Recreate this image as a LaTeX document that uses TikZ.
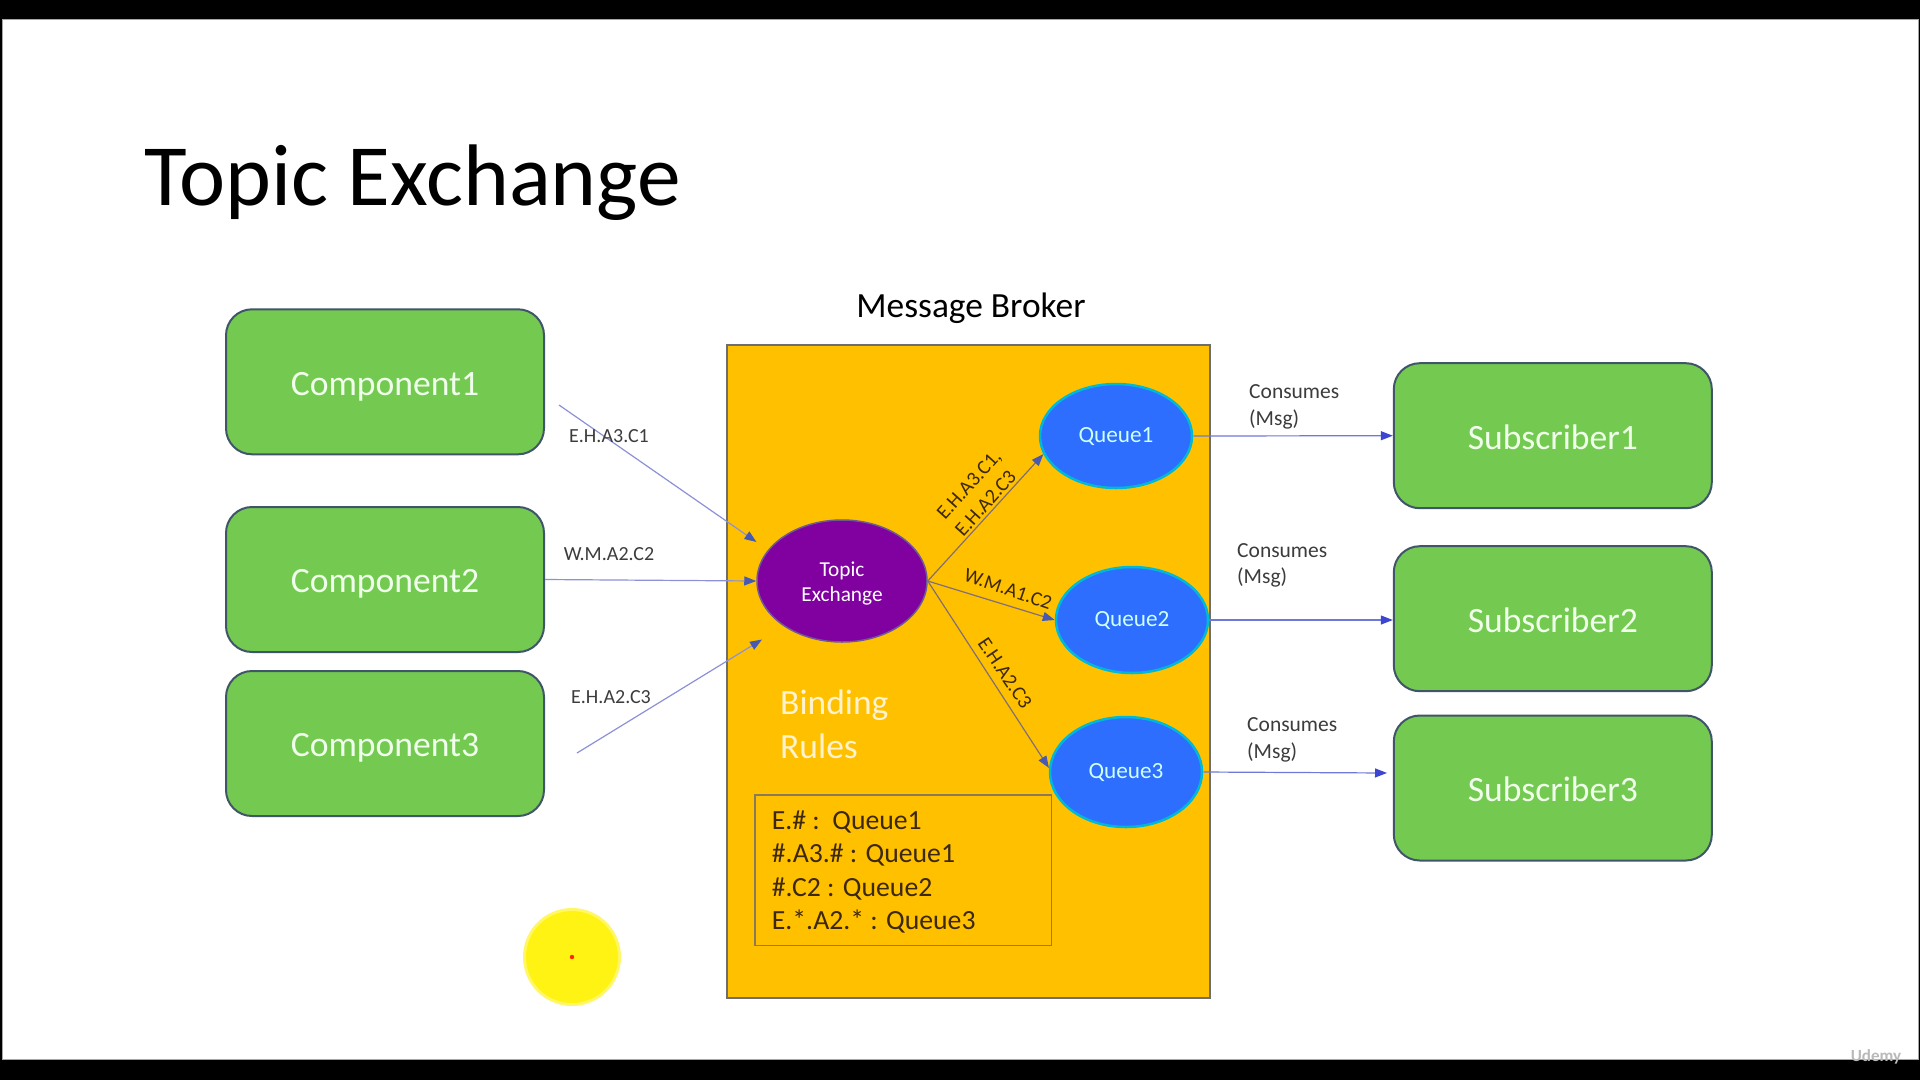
\documentclass[tikz,border=0pt]{standalone}
\usepackage{fontspec}
\setmainfont{Carlito}
\usetikzlibrary{arrows.meta,shapes.geometric}
\definecolor{boxgreen}{RGB}{116,202,80}
\definecolor{boxedge}{RGB}{65,85,105}
\definecolor{boxtext}{RGB}{240,255,235}
\definecolor{gold}{RGB}{255,192,0}
\definecolor{brokeredge}{RGB}{110,110,110}
\definecolor{exfill}{RGB}{128,0,160}
\definecolor{exedge}{RGB}{110,90,150}
\definecolor{qfill}{RGB}{45,110,255}
\definecolor{qedge}{RGB}{0,185,215}
\definecolor{qtext}{RGB}{205,255,255}
\definecolor{bindtext}{RGB}{255,242,204}
\definecolor{leftline}{RGB}{140,145,215}
\definecolor{headblue}{RGB}{70,90,180}
\definecolor{innerline}{RGB}{130,110,120}
\definecolor{consline}{RGB}{110,120,215}
\definecolor{conshead}{RGB}{60,70,210}
\definecolor{lbltext}{RGB}{60,60,60}
\definecolor{rulebrown}{RGB}{60,40,10}
\definecolor{rulebox}{RGB}{140,120,90}
\begin{document}
\begin{tikzpicture}[x=1pt,y=-1pt,
  compbox/.style={draw=boxedge, line width=2pt, fill=boxgreen, rounded corners=26pt,
    text=boxtext, font=\fontsize{35.6}{43}\selectfont, inner sep=0pt,
    text height=28pt, text depth=1.4pt,
    minimum width=318pt, minimum height=145pt},
  queuenode/.style={ellipse, draw=qedge, line width=2.5pt, fill=qfill, text=qtext,
    font=\fontsize{23.2}{28}\selectfont, inner sep=0pt, minimum width=152pt},
  leftarrow/.style={line width=1.2pt, draw=leftline, -{Triangle[length=12pt,width=9pt,color=headblue]}},
  innerarrow/.style={line width=1.2pt, draw=innerline, -{Triangle[length=12pt,width=9pt,color=headblue]}},
  consarrow/.style={line width=1.2pt, draw=consline, -{Triangle[length=12pt,width=9pt,color=conshead]}},
  leftlbl/.style={text=lbltext, font=\fontsize{20}{24}\selectfont, inner sep=0pt},
  innerlbl/.style={text=rulebrown, font=\fontsize{20.2}{24.7}\selectfont, inner sep=0pt},
  conslbl/.style={text=lbltext, font=\fontsize{21.5}{26.7}\selectfont, inner sep=0pt, align=left, anchor=west},
  ruletext/.style={text=rulebrown, font=\fontsize{27.7}{33.3}\selectfont, inner sep=0pt, anchor=base west}
]
\useasboundingbox (0,0) rectangle (1920,1080);
% screen frame
\fill[black] (0,0) rectangle (1920,1080);
\filldraw[fill=white, draw=gray!70, line width=1pt] (2,19) rectangle (1918,1059);

% title
\node[anchor=base west, inner sep=0pt, font=\fontsize{87.4}{100}\selectfont] (title) at (144,205) {Topic Exchange};

% broker
\node[font=\fontsize{35.4}{42}\selectfont, inner sep=0pt] (brokerlbl) at (971,308) {Message Broker};
\filldraw[fill=gold, draw=brokeredge, line width=2pt] (727,345) rectangle (1210,998);

% components
\node[compbox] (c1) at (385,381.8) {Component1};
\node[compbox] (c2) at (385,579.5) {Component2};
\node[compbox] (c3) at (385,743.5) {Component3};

% subscribers
\node[compbox] (s1) at (1552.8,435.7) {Subscriber1};
\node[compbox] (s2) at (1552.8,618.7) {Subscriber2};
\node[compbox] (s3) at (1552.8,788) {Subscriber3};

% topic exchange
\node[ellipse, draw=exedge, line width=1.5pt, fill=exfill, text=white, align=center,
  font=\fontsize{21.3}{25}\selectfont, inner sep=0pt, minimum width=170pt, minimum height=122pt] (ex) at (842,581) {};
\node[text=white, align=center, font=\fontsize{21.3}{25}\selectfont, inner sep=0pt] (extext) at (842,583) {Topic\\Exchange};

% queues
\node[queuenode, minimum height=104pt] (q1) at (1116,436) {Queue1};
\node[queuenode, minimum height=106pt] (q2) at (1132,620) {Queue2};
\node[queuenode, minimum height=110pt] (q3) at (1126,772) {Queue3};

% binding rules
\node[anchor=base west, inner sep=0pt, text=bindtext, font=\fontsize{35.5}{44}\selectfont] (bind1) at (780,714) {Binding};
\node[anchor=base west, inner sep=0pt, text=bindtext, font=\fontsize{35.5}{44}\selectfont] (bind2) at (780,758) {Rules};
\draw[draw=rulebox, line width=1.5pt] (755,795) rectangle (1051.7,945.7);
\node[ruletext] (r1) at (771.7,829) {E.\# :\ \ Queue1};
\node[ruletext] (r2) at (771.7,862.7) {\#.A3.\# : Queue1};
\node[ruletext] (r3) at (771.7,896) {\#.C2 : Queue2};
\node[ruletext] (r4) at (771.7,929.3) {E.*.A2.* : Queue3};

% left arrows
\coordinate (a1s) at (559,405);
\coordinate (a1e) at (756.5,542);
\coordinate (a3s) at (577,753);
\coordinate (a3e) at (762,639.5);
\draw[leftarrow] (a1s) -- (a1e);
\draw[leftarrow] (c2.east) -- (ex.west);
\draw[leftarrow] (a3s) -- (a3e);
\node[leftlbl] (l1) at (609,436) {E.H.A3.C1};
\node[leftlbl] (l2) at (609,554.5) {W.M.A2.C2};
\node[leftlbl] (l3) at (611,697) {E.H.A2.C3};

% exchange to queues
\draw[innerarrow] (ex.east) -- (q1.194);
\draw[innerarrow] (ex.east) -- (q2.west);
\draw[innerarrow] (ex.east) -- (q3.177);
\node[innerlbl, rotate=48, align=left] (il1) at (978,493) {E.H.A3.C1,\\E.H.A2.C3};
\node[innerlbl, rotate=-19] (il2) at (1008,589) {W.M.A1.C2};
\node[innerlbl, rotate=-56] (il3) at (1005,673) {E.H.A2.C3};

% consumes
\coordinate (s3in) at (1387,773);
\draw[consarrow] (q1.east) -- (s1.west);
\draw[consarrow] (q2.east) -- (q2.east -| s2.west);
\draw[consarrow] (q3.east) -- (s3in);
\node[conslbl] (k1) at (1249,406.7) {Consumes\\(Msg)};
\node[conslbl] (k2) at (1237,565.3) {Consumes\\(Msg)};
\node[conslbl] (k3) at (1247,740) {Consumes\\(Msg)};

% pointer highlight
\fill[yellow!60!white] (572,957) circle (49);
\fill[yellow!92!white] (572,957) circle (46);
\fill[red!70!orange] (572,957) circle (2.2);

% watermark
\node[text=gray!55, font=\fontsize{17}{20}\selectfont\bfseries, inner sep=0pt] (wm) at (1876,1057) {Udemy};
\end{tikzpicture}
\end{document}
